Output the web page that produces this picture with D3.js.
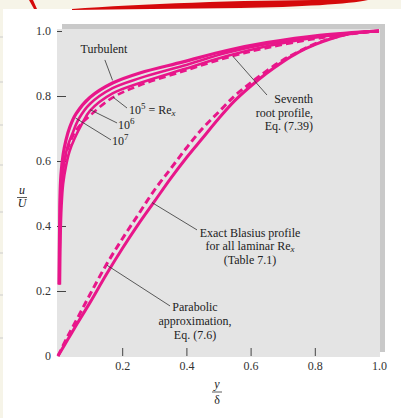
<!DOCTYPE html>
<html>
<head>
<meta charset="utf-8">
<script src="https://cdn.jsdelivr.net/npm/d3@7"></script>
<style>
  body { margin: 0; background: #f6f4e8; }
  svg { display: block; }
  .lbl { font-family: "Liberation Serif", "Times New Roman", serif; font-size: 12px; fill: #222; }
  .tick text { font-family: "Liberation Serif", "Times New Roman", serif; font-size: 12px; fill: #333; }
  .tick line { stroke: #444; stroke-width: 1; }
</style>
</head>
<body>
<div id="chart"></div>
<script>
// tick values
var xTicks = [0.2, 0.4, 0.6, 0.8, 1.0];
var yTicks = [0, 0.2, 0.4, 0.6, 0.8, 1.0];

// turbulent profiles, [y/delta, u/U]
var turbOuter = [[0.003,0.22],[0.005,0.39],[0.006,0.48],[0.009,0.555],[0.016,0.62],[0.025,0.665],
  [0.037,0.705],[0.056,0.745],[0.1,0.796],[0.17,0.84],[0.255,0.871],[0.39,0.905],[0.526,0.94],
  [0.65,0.964],[0.815,0.987],[1,1]];
var turbMiddle = [[0.004,0.22],[0.006,0.38],[0.008,0.47],[0.012,0.54],[0.02,0.6],[0.03,0.645],
  [0.045,0.685],[0.065,0.73],[0.1,0.776],[0.17,0.824],[0.255,0.855],[0.39,0.893],[0.526,0.933],
  [0.65,0.96],[0.815,0.985],[1,1]];
var turbInner = [[0.006,0.22],[0.008,0.37],[0.011,0.46],[0.016,0.53],[0.025,0.585],[0.036,0.63],
  [0.052,0.67],[0.075,0.715],[0.1,0.755],[0.17,0.808],[0.255,0.84],[0.39,0.882],[0.526,0.923],
  [0.65,0.953],[0.815,0.982],[1,1]];
// seventh root profile (dashed)
var seventhRoot = [[0.008,0.5],[0.012,0.55],[0.02,0.6],[0.035,0.65],[0.06,0.7],[0.1,0.74],
  [0.17,0.795],[0.255,0.833],[0.39,0.876],[0.526,0.918],[0.65,0.948],[0.815,0.978],[1,1]];

// laminar profiles
var parabolic = [[0,0],[0.03,0.06],[0.06,0.115],[0.1,0.19],[0.15,0.28],[0.2,0.36],[0.25,0.435],
  [0.3,0.51],[0.35,0.575],[0.4,0.64],[0.45,0.7],[0.5,0.75],[0.55,0.8],[0.6,0.84],[0.65,0.877],
  [0.7,0.91],[0.75,0.937],[0.8,0.96],[0.85,0.977],[0.9,0.99],[0.95,0.997],[1,1]];
var blasius = [[0,0],[0.03,0.05],[0.06,0.1],[0.1,0.165],[0.15,0.25],[0.2,0.33],[0.25,0.405],
  [0.3,0.475],[0.35,0.545],[0.4,0.61],[0.45,0.67],[0.5,0.73],[0.55,0.785],[0.6,0.83],[0.65,0.87],
  [0.7,0.905],[0.75,0.935],[0.8,0.958],[0.85,0.976],[0.9,0.99],[0.95,0.997],[1,1]];

var W = 401, H = 418;
var pink = "#e8168a";

var svg = d3.select("#chart").append("svg")
  .attr("width", W).attr("height", H);

// page background: beige strip, white card, red swoosh
svg.append("rect").attr("width", W).attr("height", H).attr("fill", "#f6f4e8");
svg.append("rect").attr("x", 3).attr("y", 9).attr("width", W - 3).attr("height", H - 9).attr("fill", "#fff");
[37, 82, 125, 165, 212, 253, 295, 338].forEach(function (yy) {
  svg.append("line").attr("x1", 0).attr("x2", 3).attr("y1", yy).attr("y2", yy)
    .attr("stroke", "#ccc").attr("stroke-width", 1);
});
svg.append("path")
  .attr("d", "M29,0 L33,0 L37,9 L34,9 Z M72,9 C140,4 240,0 330,0 L368,0 C350,4 300,7 240,8 C180,9 120,9 72,10 Z")
  .attr("fill", "#d50a0a");

// plot panel with shadow
svg.append("rect").attr("x", 62).attr("y", 24).attr("width", 323).attr("height", 328).attr("fill", "#c9c9c9");
svg.append("rect").attr("x", 57).attr("y", 29).attr("width", 323).attr("height", 328).attr("fill", "#e4e4e4");

var x = d3.scaleLinear().domain([0, 1]).range([58, 379]);
var y = d3.scaleLinear().domain([0, 1]).range([356, 31]);

// axes
var xAxis = d3.axisBottom(x).tickValues(xTicks).tickSize(-8).tickPadding(5).tickFormat(d3.format(".1f"));
var gx = svg.append("g").attr("transform", "translate(0,356)").call(xAxis);
gx.select(".domain").remove();
gx.selectAll(".tick").filter(function (d) { return d === 1; }).select("line").remove();

var yAxis = d3.axisLeft(y).tickValues(yTicks).tickSize(-9).tickPadding(6)
  .tickFormat(function (d) { return d === 0 ? "0" : d3.format(".1f")(d); });
var gy = svg.append("g").attr("transform", "translate(57,0)").call(yAxis);
gy.select(".domain").remove();
gy.selectAll(".tick").filter(function (d) { return d === 0; }).select("line").remove();
gy.selectAll(".tick").filter(function (d) { return d === 1; }).select("line").attr("x2", 5);

// curves
var line = d3.line()
  .x(function (d) { return x(d[0]); })
  .y(function (d) { return y(d[1]); })
  .curve(d3.curveCatmullRom.alpha(0.5));

function drawCurve(data, dashed, width) {
  svg.append("path")
    .datum(data)
    .attr("fill", "none")
    .attr("stroke", pink)
    .attr("stroke-width", width)
    .attr("stroke-dasharray", dashed ? "7,4" : null)
    .attr("d", line);
}

drawCurve(blasius, false, 3);
drawCurve(parabolic, true, 3);
drawCurve(turbInner, false, 2.6);
drawCurve(seventhRoot, true, 2.6);
drawCurve(turbMiddle, false, 2.6);
drawCurve(turbOuter, false, 3.2);

// leader lines (data units)
var leaders = [
  [[0.146, 0.911], [0.17, 0.848]],
  [[0.215, 0.763], [0.172, 0.796]],
  [[0.184, 0.717], [0.1, 0.758]],
  [[0.165, 0.665], [0.055, 0.732]],
  [[0.651, 0.803], [0.545, 0.922]],
  [[0.433, 0.388], [0.293, 0.472]],
  [[0.349, 0.154], [0.153, 0.279]]
];
leaders.forEach(function (l) {
  svg.append("line")
    .attr("x1", x(l[0][0])).attr("y1", y(l[0][1]))
    .attr("x2", x(l[1][0])).attr("y2", y(l[1][1]))
    .attr("stroke", "#333").attr("stroke-width", 0.8);
});

// annotation text
function label(tx, ty, anchor, parts) {
  var t = svg.append("text").attr("class", "lbl").attr("x", tx).attr("y", ty).attr("text-anchor", anchor);
  parts.forEach(function (p) {
    var s = t.append("tspan").text(p.t);
    if (p.sup) s.attr("dy", -5).attr("font-size", "9px");
    if (p.back) s.attr("dy", 5);
    if (p.sub) s.attr("dy", 2).attr("font-size", "9px").attr("font-style", "italic");
  });
  return t;
}

label(104, 53, "middle", [{ t: "Turbulent" }]);
label(129, 114, "start", [{ t: "10" }, { t: "5", sup: true }, { t: " = Re", back: true }, { t: "x", sub: true }]);
label(118, 129, "start", [{ t: "10" }, { t: "6", sup: true }]);
label(112, 145, "start", [{ t: "10" }, { t: "7", sup: true }]);

label(313, 103, "end", [{ t: "Seventh" }]);
label(313, 117, "end", [{ t: "root profile," }]);
label(313, 130, "end", [{ t: "Eq. (7.39)" }]);

label(250, 237, "middle", [{ t: "Exact Blasius profile" }]);
label(250, 250, "middle", [{ t: "for all laminar Re" }, { t: "x", sub: true }]);
label(250, 264, "middle", [{ t: "(Table 7.1)" }]);

label(195, 311, "middle", [{ t: "Parabolic" }]);
label(195, 325, "middle", [{ t: "approximation," }]);
label(195, 339, "middle", [{ t: "Eq. (7.6)" }]);

// axis titles as fractions
label(22, 194, "middle", [{ t: "u" }]).attr("font-style", "italic");
svg.append("line").attr("x1", 17).attr("x2", 27).attr("y1", 197.5).attr("y2", 197.5).attr("stroke", "#333").attr("stroke-width", 0.8);
label(22, 207, "middle", [{ t: "U" }]).attr("font-style", "italic");

label(217, 388, "middle", [{ t: "y" }]).attr("font-style", "italic");
svg.append("line").attr("x1", 212).attr("x2", 222).attr("y1", 392).attr("y2", 392).attr("stroke", "#333").attr("stroke-width", 0.8);
label(217, 404, "middle", [{ t: "δ" }]);
</script>
</body>
</html>
